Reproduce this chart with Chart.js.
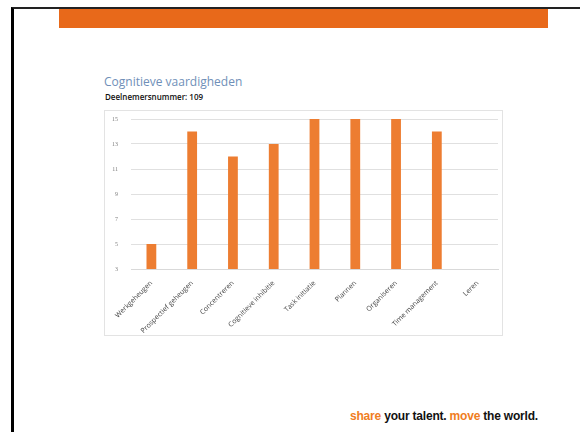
<!DOCTYPE html>
<html>
<head>
<meta charset="utf-8">
<script src="https://cdn.jsdelivr.net/npm/chart.js@4"></script>
<style>
  html, body { margin: 0; padding: 0; background: #fff; }
  body { width: 580px; height: 432px; position: relative; overflow: hidden; }
  #rand { position: absolute; left: 11px; top: 7px; width: 580px; height: 440px;
          border-left: 3px solid #000; border-top: 2px solid #222; box-sizing: border-box; }
  #balk { position: absolute; left: 59px; top: 9px; width: 489px; height: 19px; background: #e8691a; }
  #titel { position: absolute; left: 104px; top: 73px; font: 400 12px "Open Sans", sans-serif;
           color: #6f8fb8; white-space: nowrap; }
  #sub { position: absolute; left: 105px; top: 91px; font: 600 8px "Open Sans", sans-serif;
         color: #111; white-space: nowrap; }
  #kader { position: absolute; left: 104px; top: 110px; width: 399px; height: 226px;
           border: 1px solid #e3e3e3; box-sizing: border-box; }
  #wrap { position: absolute; left: 105px; top: 111px; width: 397px; height: 224px; }
  #voet { position: absolute; left: 350px; top: 409px; font: bold 12px "Liberation Sans", Arial, sans-serif;
          color: #111; white-space: nowrap; letter-spacing: -0.2px; }
  #voet span { color: #f07d22; }
</style>
</head>
<body>
<div id="rand"></div>
<div id="balk"></div>
<div id="titel">Cognitieve vaardigheden</div>
<div id="sub">Deelnemersnummer: 109</div>
<div id="kader"></div>
<div id="wrap"><canvas id="grafiek"></canvas></div>
<div id="voet"><span>share</span> your talent. <span>move</span> the world.</div>

<script>
// categorieën en scores
const categorieen = ['Werkgeheugen', 'Prospectief geheugen', 'Concentreren', 'Cognitieve inhibitie',
    'Task initiatie', 'Plannen', 'Organiseren', 'Time management', 'Leren'];
const scores = [5, 14, 12, 13, 15, 15, 15, 14, null];
const yTicks = [3, 5, 7, 9, 11, 13, 15];

const ctx = document.getElementById('grafiek').getContext('2d');
new Chart(ctx, {
    type: 'bar',
    data: {
        labels: categorieen,
        datasets: [{
            data: scores,
            backgroundColor: '#ed7d31',
            borderWidth: 0,
            barPercentage: 0.48,
            categoryPercentage: 0.5
        }]
    },
    options: {
        responsive: true,
        maintainAspectRatio: false,
        animation: false,
        layout: { padding: { top: 8, right: 4, left: 0, bottom: 0 } },
        plugins: {
            legend: { display: false },
            tooltip: { enabled: false }
        },
        scales: {
            y: {
                min: yTicks[0],
                max: yTicks[yTicks.length - 1],
                afterBuildTicks: (axis) => { axis.ticks = yTicks.map(v => ({ value: v })); },
                // vaste breedte, geen extra padding boven/onder
                afterFit: (axis) => { axis.width = 26; axis.paddingTop = 0; axis.paddingBottom = 0; },
                ticks: { color: '#7f7f7f', font: { size: 6, family: 'Liberation Serif' }, padding: 13 },
                grid: { color: '#e0e0e0', drawTicks: false },
                border: { display: false }
            },
            x: {
                afterFit: (axis) => { axis.height = 66; axis.paddingLeft = 0; axis.paddingRight = 0; },
                ticks: {
                    color: '#444', font: { size: 7, family: 'Open Sans' },
                    minRotation: 45, maxRotation: 45, autoSkip: false, padding: 2
                },
                grid: { display: false },
                border: { color: '#d9d9d9' }
            }
        }
    }
});
</script>
</body>
</html>
